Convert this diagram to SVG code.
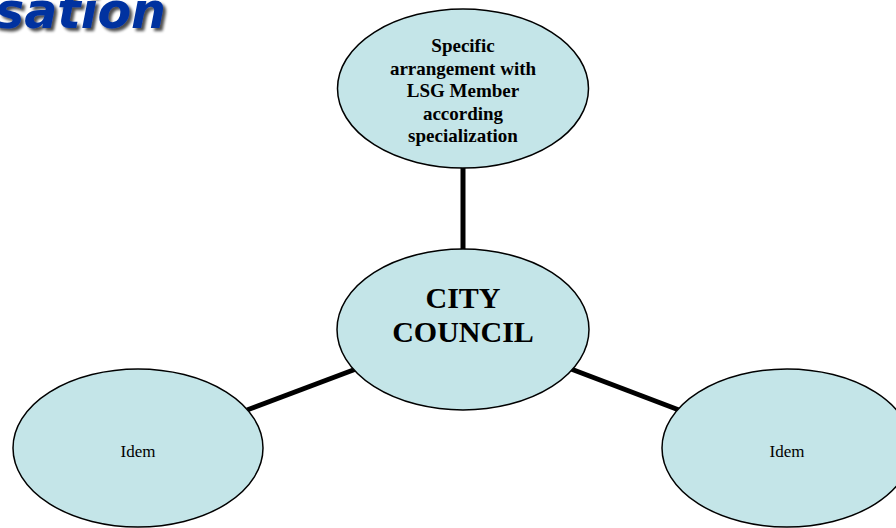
<svg xmlns="http://www.w3.org/2000/svg" width="896" height="528" viewBox="0 0 896 528">
  <defs>
    <filter id="shadow" x="-10%" y="-30%" width="130%" height="170%">
      <feGaussianBlur in="SourceAlpha" stdDeviation="1.5"/>
      <feOffset dx="3" dy="3" result="b"/>
      <feComponentTransfer><feFuncA type="linear" slope="0.7"/></feComponentTransfer>
      <feMerge><feMergeNode/><feMergeNode in="SourceGraphic"/></feMerge>
    </filter>
  </defs>
  <style>
    .node { fill: #c4e5e8; stroke: #000; stroke-width: 1.5; }
    .conn { stroke: #000; stroke-width: 5; fill: none; }
    .t { font-family: "Liberation Serif", "Times New Roman", serif; fill: #000; text-anchor: middle; }
    .b { font-weight: bold; }
    .title { font-family: "DejaVu Sans", Verdana, sans-serif; font-weight: bold; font-style: italic; fill: #0033a0; }
  </style>
  <rect width="896" height="528" fill="#fff"/>
  <text class="title" x="166" y="28" font-size="49" text-anchor="end" filter="url(#shadow)">sation</text>
  <g id="connectors">
    <line class="conn" x1="463" y1="167" x2="463" y2="250"/>
    <line class="conn" x1="247" y1="410" x2="356" y2="369"/>
    <line class="conn" x1="571" y1="369" x2="679" y2="410"/>
  </g>
  <g id="top">
    <ellipse class="node" cx="463" cy="88.5" rx="125.5" ry="79.5"/>
    <text class="t b" x="463" font-size="19"><tspan x="463" y="52">Specific</tspan><tspan x="463" y="75">arrangement with</tspan><tspan x="463" y="97">LSG Member</tspan><tspan x="463" y="119.5">according</tspan><tspan x="463" y="142">specialization</tspan></text>
  </g>
  <g id="center">
    <ellipse class="node" cx="463" cy="329.5" rx="126" ry="80.5"/>
    <text class="t b" font-size="30"><tspan x="463" y="308">CITY</tspan><tspan x="463" y="342">COUNCIL</tspan></text>
  </g>
  <g id="left">
    <ellipse class="node" cx="138" cy="448" rx="125" ry="79"/>
    <text class="t" x="138" y="457" font-size="17">Idem</text>
  </g>
  <g id="right">
    <ellipse class="node" cx="787" cy="448" rx="125" ry="79"/>
    <text class="t" x="787" y="457" font-size="17">Idem</text>
  </g>
</svg>
